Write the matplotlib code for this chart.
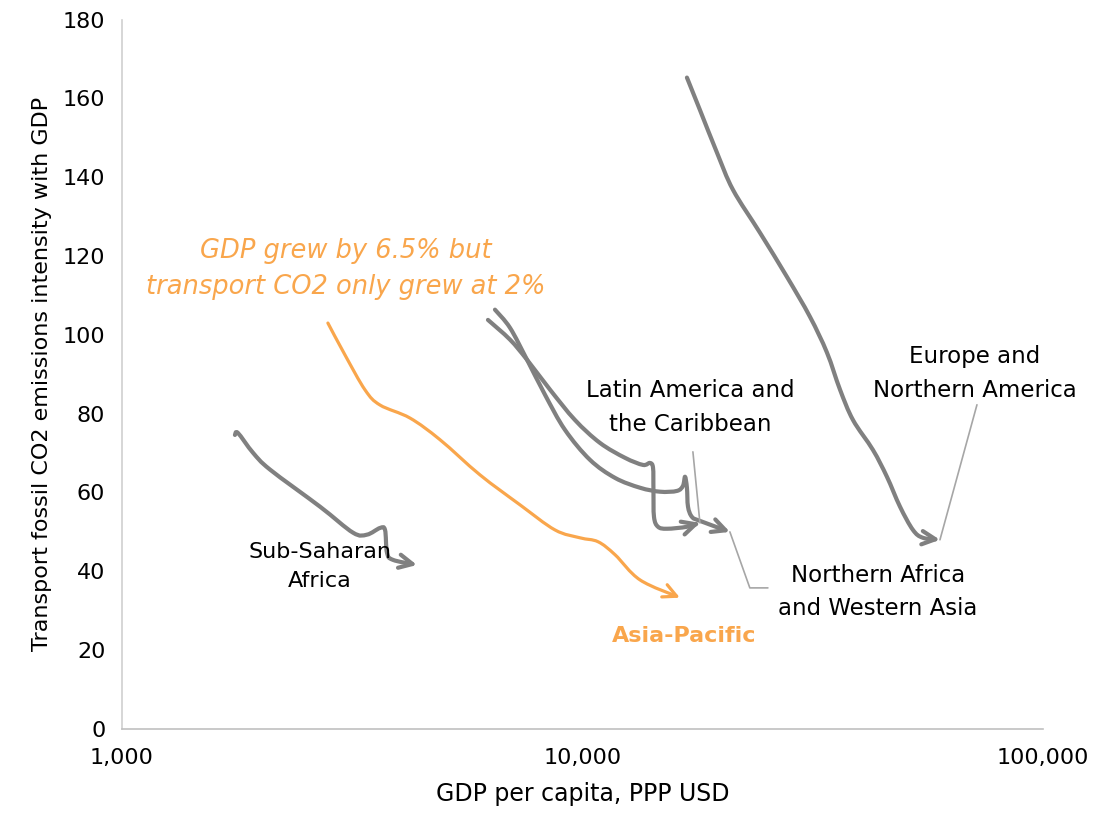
import matplotlib
matplotlib.use("Agg")
import numpy as np
import matplotlib.pyplot as plt
from matplotlib.path import Path
from matplotlib.patches import FancyArrowPatch
from matplotlib.ticker import FixedLocator, FuncFormatter

# ---- data (GDP per capita PPP USD, transport CO2 intensity) ----
ssa_x = [1759, 1786, 1925, 2097, 2692, 3175, 3404, 3634, 3726, 3763, 3877, 4372]
ssa_y = [74.6, 75.1, 70.1, 65.8, 56.4, 49.8, 49.3, 51.0, 50.5, 44.7, 42.9, 41.6]

ap_x = [2800, 3050, 3373, 3633, 4220, 4904, 5986, 7311, 8715, 9876, 10810, 11770, 13340, 16280]
ap_y = [103.0, 94.9, 86.0, 82.2, 78.9, 73.4, 64.5, 56.9, 50.5, 48.5, 47.5, 44.2, 37.8, 33.3]

lac_x = [6234, 6960, 7578, 8502, 9632, 10910, 12370, 13530, 14010, 14230, 14260, 14300, 14590, 15260, 16860, 17990]
lac_y = [103.8, 98.8, 93.7, 86.1, 78.4, 72.6, 68.8, 67.0, 67.5, 66.3, 60.7, 53.8, 51.3, 50.8, 51.3, 52.3]

nawa_x = [6456, 6960, 7578, 8292, 9162, 10380, 11770, 13340, 14740, 16040, 16530, 16700, 16860, 16950, 17290, 17990, 20900]
nawa_y = [106.4, 101.8, 93.7, 84.8, 75.9, 68.3, 63.7, 61.2, 60.2, 60.4, 61.7, 64.0, 61.2, 56.4, 53.8, 52.8, 50.0]

ena_x = [16860, 17990, 19600, 21230, 24300, 27810, 31190, 33960, 36250, 38680, 42740, 45830, 48930, 52200, 54880, 59750]
ena_y = [165.3, 157.1, 146.2, 136.8, 125.9, 114.7, 104.6, 95.5, 86.1, 78.4, 70.8, 64.0, 56.4, 50.5, 48.5, 48.0]

x_ticks = [1000, 10000, 100000]
y_ticks = [0, 20, 40, 60, 80, 100, 120, 140, 160, 180]

GREY = "#808080"
ORANGE = "#F9A64C"

plt.rcParams['font.family'] = ['DejaVu Sans']

fig = plt.figure(figsize=(10.99, 8.19), dpi=100)
ax = fig.add_axes([0.111, 0.110, 0.838, 0.866])
ax.set_xscale('log')
ax.set_xlim(1000, 100000)
ax.set_ylim(0, 180)


def smooth_path(xs, ys):
    """Smooth (Excel-like) Bezier path through the points, built in log-x space."""
    lx = np.log10(np.asarray(xs, float))
    ly = np.asarray(ys, float)
    sx, sy = 1 / 2.0, 1 / 180.0
    P = np.column_stack([lx / sx, ly / sy]) * np.array([1, 0.75])
    n = len(P)
    verts = [P[0]]
    codes = [Path.MOVETO]
    for i in range(n - 1):
        p0 = P[i - 1] if i > 0 else P[i]
        p1, p2 = P[i], P[i + 1]
        p3 = P[i + 2] if i + 2 < n else P[i + 1]
        c1 = p1 + (p2 - p0) / 6.0
        c2 = p2 - (p3 - p1) / 6.0
        verts += [c1, c2, p2]
        codes += [Path.CURVE4] * 3
    V = np.array(verts) / np.array([1, 0.75])
    V = np.column_stack([10 ** (V[:, 0] * sx), V[:, 1] * sy])
    return Path(V, codes)


def draw(xs, ys, color, lw):
    patch = FancyArrowPatch(path=smooth_path(xs, ys), arrowstyle='->',
                            mutation_scale=24, color=color, lw=lw,
                            capstyle='round', joinstyle='round',
                            transform=ax.transData)
    ax.add_patch(patch)


draw(ssa_x, ssa_y, GREY, 3)
draw(lac_x, lac_y, GREY, 3)
draw(nawa_x, nawa_y, GREY, 3)
draw(ena_x, ena_y, GREY, 3)
draw(ap_x, ap_y, ORANGE, 2.3)

ax.xaxis.set_major_locator(FixedLocator(x_ticks))
ax.xaxis.set_minor_locator(FixedLocator([]))
ax.xaxis.set_major_formatter(FuncFormatter(lambda v, p: f"{int(round(v)):,}"))
ax.yaxis.set_major_locator(FixedLocator(y_ticks))
ax.tick_params(axis='both', length=0, labelsize=16, colors='black')
ax.tick_params(axis='x', pad=14)
ax.tick_params(axis='y', pad=12)

for s in ['top', 'right']:
    ax.spines[s].set_visible(False)
ax.spines['left'].set_color('#D0D0D0')
ax.spines['bottom'].set_color('#C0C0C0')
ax.spines['left'].set_linewidth(1.2)
ax.spines['bottom'].set_linewidth(1.2)

ax.set_xlabel('GDP per capita, PPP USD', fontsize=17, labelpad=10)
ax.set_ylabel('Transport fossil CO2 emissions intensity with GDP', fontsize=16, labelpad=8)

# ---- labels ----
LS = 1.6
ax.text(0.243, 0.648, 'GDP grew by 6.5% but\ntransport CO2 only grew at 2%',
        transform=ax.transAxes, color=ORANGE, fontsize=18.5, style='italic',
        ha='center', va='center', linespacing=1.5)
ax.text(0.61, 0.131, 'Asia-Pacific', transform=ax.transAxes, color=ORANGE,
        fontsize=16, fontweight='bold', ha='center', va='center')
ax.text(0.215, 0.229, 'Sub-Saharan\nAfrica', transform=ax.transAxes,
        fontsize=16, ha='center', va='center', linespacing=LS)
ax.text(0.617, 0.453, 'Latin America and\nthe Caribbean', transform=ax.transAxes,
        fontsize=16.5, ha='center', va='center', linespacing=LS)
ax.text(0.926, 0.501, 'Europe and\nNorthern America', transform=ax.transAxes,
        fontsize=16.5, ha='center', va='center', linespacing=LS)
ax.text(0.821, 0.193, 'Northern Africa\nand Western Asia', transform=ax.transAxes,
        fontsize=16.5, ha='center', va='center', linespacing=LS)

# ---- leader lines ----
LEAD = dict(arrowstyle='-', color='#A6A6A6', lw=1.2, shrinkA=0, shrinkB=0)
ax.annotate('', xy=(lac_x[-1], lac_y[-1]), xytext=(-7, 71),
            textcoords='offset pixels', arrowprops=LEAD)
ax.annotate('', xy=(ena_x[-1], ena_y[-1]), xytext=(37, 135),
            textcoords='offset pixels', arrowprops=LEAD)
ax.annotate('', xy=(nawa_x[-1], nawa_y[-1]), xytext=(38, -56),
            textcoords='offset pixels',
            arrowprops=dict(LEAD, connectionstyle='angle,angleA=0,angleB=109.6,rad=0'))

fig.savefig('out.png', dpi=100)
